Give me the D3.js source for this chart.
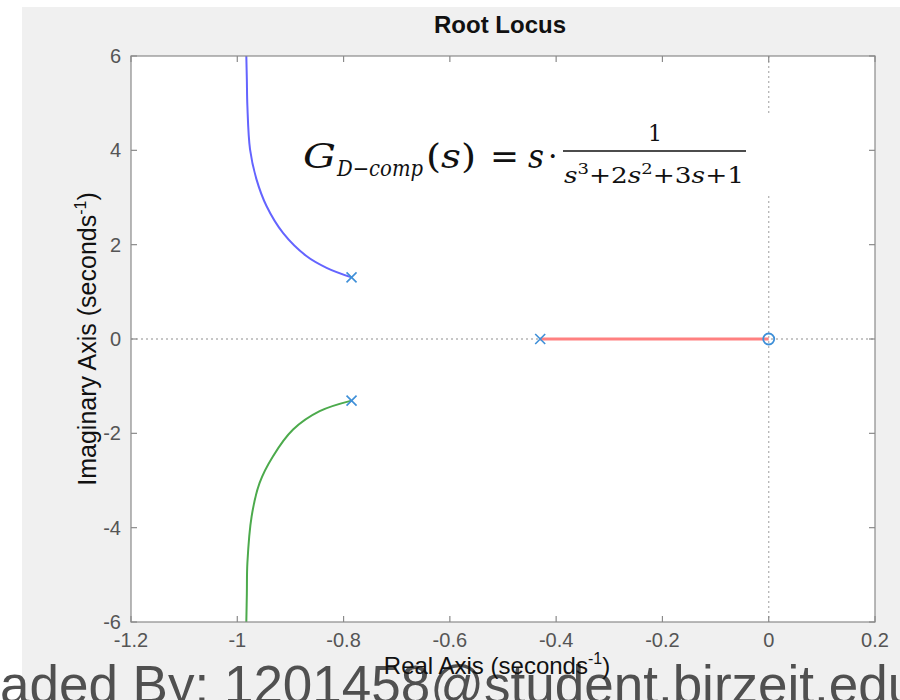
<!DOCTYPE html>
<html><head><meta charset="utf-8">
<script src="https://cdn.jsdelivr.net/npm/d3@7"></script>
<style>body{margin:0;background:#fff;} svg{display:block;}</style>
</head><body>
<script>
// ---- data ----
const xTicks = [-1.2, -1, -0.8, -0.6, -0.4, -0.2, 0, 0.2];
const yTicks = [-6, -4, -2, 0, 2, 4, 6];
const blueRe = [-0.983, -0.982, -0.981, -0.976, -0.964, -0.945, -0.914, -0.870, -0.832, -0.785];
const blueIm = [6.0, 5.5, 4.94, 4.02, 3.39, 2.82, 2.25, 1.76, 1.51, 1.307];
const greenRe = [-0.983, -0.982, -0.981, -0.973, -0.958, -0.933, -0.895, -0.845, -0.785];
const greenIm = [-6.0, -5.4, -4.75, -3.76, -3.05, -2.49, -1.92, -1.53, -1.307];
const redRe = [-0.430, 0];
const redIm = [0, 0];
const polesRe = [-0.785, -0.785, -0.430];
const polesIm = [1.307, -1.307, 0];
const zerosRe = [0];
const zerosIm = [0];
const titleText = "Root Locus";
const watermarkText = "Downloaded By: 1201458@student.birzeit.edu";

const W = 900, H = 700;
const svg = d3.select("body").append("svg").attr("width", W).attr("height", H);
svg.append("rect").attr("x", 22).attr("y", 7).attr("width", W - 22).attr("height", H - 7).attr("fill", "#f0f0f0");

const L = 131, R = 875, T = 56, B = 622;
const x = d3.scaleLinear().domain([-1.2, 0.2]).range([L, R]);
const y = d3.scaleLinear().domain([-6, 6]).range([B, T]);

svg.append("rect").attr("x", L).attr("y", T).attr("width", R - L).attr("height", B - T).attr("fill", "#fff");

const font = "'Liberation Sans', Arial, sans-serif";
const plot = svg.append("g");
plot.append("defs").append("clipPath").attr("id", "clip").append("rect")
  .attr("x", L).attr("y", T).attr("width", R - L).attr("height", B - T);

// dotted zero lines
plot.append("line").attr("x1", L).attr("x2", R).attr("y1", y(0)).attr("y2", y(0))
  .attr("stroke", "#b4b4b4").attr("stroke-width", 1.3).attr("stroke-dasharray", "2,3");
plot.append("line").attr("x1", x(0)).attr("x2", x(0)).attr("y1", T).attr("y2", B)
  .attr("stroke", "#b4b4b4").attr("stroke-width", 1.3).attr("stroke-dasharray", "2,3");

const line = d3.line().x(d => x(d[0])).y(d => y(d[1])).curve(d3.curveCatmullRom);
const g = plot.append("g").attr("clip-path", "url(#clip)");
g.append("path").datum(blueRe.map((v, i) => [v, blueIm[i]])).attr("d", line)
  .attr("fill", "none").attr("stroke", "#6464ff").attr("stroke-width", 2);
g.append("path").datum(greenRe.map((v, i) => [v, greenIm[i]])).attr("d", line)
  .attr("fill", "none").attr("stroke", "#4caa4c").attr("stroke-width", 2);
g.append("path").datum(redRe.map((v, i) => [v, redIm[i]])).attr("d", d3.line().x(d => x(d[0])).y(d => y(d[1])))
  .attr("fill", "none").attr("stroke", "#ff8080").attr("stroke-width", 3);

// formula box (white) covering the dotted line
svg.append("rect").attr("x", 290).attr("y", 116).attr("width", 486).attr("height", 77).attr("fill", "#fff");
const serif = "'DejaVu Serif', 'Liberation Serif', serif";
const f = svg.append("g").attr("font-family", serif).attr("fill", "#111");
f.append("text").attr("x", 303).attr("y", 168).attr("font-size", 34).attr("font-style", "italic")
  .attr("textLength", 33).attr("lengthAdjust", "spacingAndGlyphs").text("G");
f.append("text").attr("x", 337).attr("y", 176).attr("font-size", 22).attr("font-style", "italic")
  .attr("textLength", 86).attr("lengthAdjust", "spacingAndGlyphs").text("D−comp");
const ps = f.append("text").attr("x", 426).attr("y", 168).attr("font-size", 34)
  .attr("textLength", 50).attr("lengthAdjust", "spacingAndGlyphs");
ps.append("tspan").text("(");
ps.append("tspan").attr("font-style", "italic").text("s");
ps.append("tspan").text(")");
f.append("text").attr("x", 490).attr("y", 168).attr("font-size", 34)
  .attr("textLength", 29).attr("lengthAdjust", "spacingAndGlyphs").text("=");
f.append("text").attr("x", 528).attr("y", 168).attr("font-size", 34).attr("font-style", "italic")
  .attr("textLength", 16).attr("lengthAdjust", "spacingAndGlyphs").text("s");
f.append("text").attr("x", 548).attr("y", 166).attr("font-size", 30).text("·");
f.append("line").attr("x1", 563).attr("x2", 746).attr("y1", 151).attr("y2", 151).attr("stroke", "#111").attr("stroke-width", 1.5);
f.append("text").attr("x", 655).attr("y", 141).attr("font-size", 22).attr("text-anchor", "middle").text("1");
const den = f.append("text").attr("x", 564).attr("y", 183).attr("font-size", 22)
  .attr("textLength", 180).attr("lengthAdjust", "spacingAndGlyphs");
den.append("tspan").attr("font-style", "italic").text("s");
den.append("tspan").attr("font-size", 15).attr("dy", -9).text("3");
den.append("tspan").attr("dy", 9).text("+2");
den.append("tspan").attr("font-style", "italic").text("s");
den.append("tspan").attr("font-size", 15).attr("dy", -9).text("2");
den.append("tspan").attr("dy", 9).text("+3");
den.append("tspan").attr("font-style", "italic").text("s");
den.append("tspan").text("+1");

// markers
const mc = "#3e8fd8";
const poles = svg.append("g");
polesRe.forEach((v, i) => {
  const px = x(v), py = y(polesIm[i]), s = 5;
  poles.append("path").attr("d", `M${px - s},${py - s}L${px + s},${py + s}M${px - s},${py + s}L${px + s},${py - s}`)
    .attr("stroke", mc).attr("stroke-width", 1.6).attr("fill", "none");
});
zerosRe.forEach((v, i) => {
  svg.append("circle").attr("cx", x(v)).attr("cy", y(zerosIm[i])).attr("r", 5.5)
    .attr("fill", "none").attr("stroke", mc).attr("stroke-width", 1.8);
});

// axes box + ticks
const ax = svg.append("g").attr("stroke", "#8a8a8a").attr("stroke-width", 1.2);
ax.append("rect").attr("x", L).attr("y", T).attr("width", R - L).attr("height", B - T).attr("fill", "none");
const tl = 6;
xTicks.forEach(t => {
  ax.append("line").attr("x1", x(t)).attr("x2", x(t)).attr("y1", B).attr("y2", B - tl);
  ax.append("line").attr("x1", x(t)).attr("x2", x(t)).attr("y1", T).attr("y2", T + tl);
});
yTicks.forEach(t => {
  ax.append("line").attr("x1", L).attr("x2", L + tl).attr("y1", y(t)).attr("y2", y(t));
  ax.append("line").attr("x1", R).attr("x2", R - tl).attr("y1", y(t)).attr("y2", y(t));
});

const lab = svg.append("g").attr("font-family", font).attr("fill", "#555").attr("font-size", 20);
xTicks.forEach(t => {
  lab.append("text").attr("x", x(t)).attr("y", 647).attr("text-anchor", "middle").text(String(t));
});
yTicks.forEach(t => {
  lab.append("text").attr("x", L - 10).attr("y", y(t) + 7).attr("text-anchor", "end").text(t);
});

// watermark (its left part runs off the page, as in the reference)
const wm = svg.append("text").attr("font-family", font).attr("fill", "#505050").attr("font-size", 53).attr("y", 703);
const probe = svg.append("text").attr("font-family", font).attr("font-size", 53).text("Downlo");
const off = probe.node().getComputedTextLength();
probe.remove();
wm.attr("x", -off).text(watermarkText);

// title and axis labels
svg.append("text").attr("x", 500).attr("y", 33).attr("text-anchor", "middle").attr("font-family", font)
  .attr("font-weight", "bold").attr("font-size", 24).attr("fill", "#111").text(titleText);
const yl = svg.append("text").attr("transform", `translate(96,${(T + B) / 2}) rotate(-90)`).attr("text-anchor", "middle")
  .attr("font-family", font).attr("font-size", 25).attr("fill", "#111");
yl.append("tspan").text("Imaginary Axis (seconds");
yl.append("tspan").attr("font-size", 16).attr("dy", -10).text("-1");
yl.append("tspan").attr("dy", 10).text(")");
const xl = svg.append("text").attr("x", 497).attr("y", 674).attr("text-anchor", "middle")
  .attr("font-family", font).attr("font-size", 24).attr("fill", "#111");
xl.append("tspan").text("Real Axis (seconds");
xl.append("tspan").attr("font-size", 16).attr("dy", -10).text("-1");
xl.append("tspan").attr("dy", 10).text(")");
</script>
</body></html>
